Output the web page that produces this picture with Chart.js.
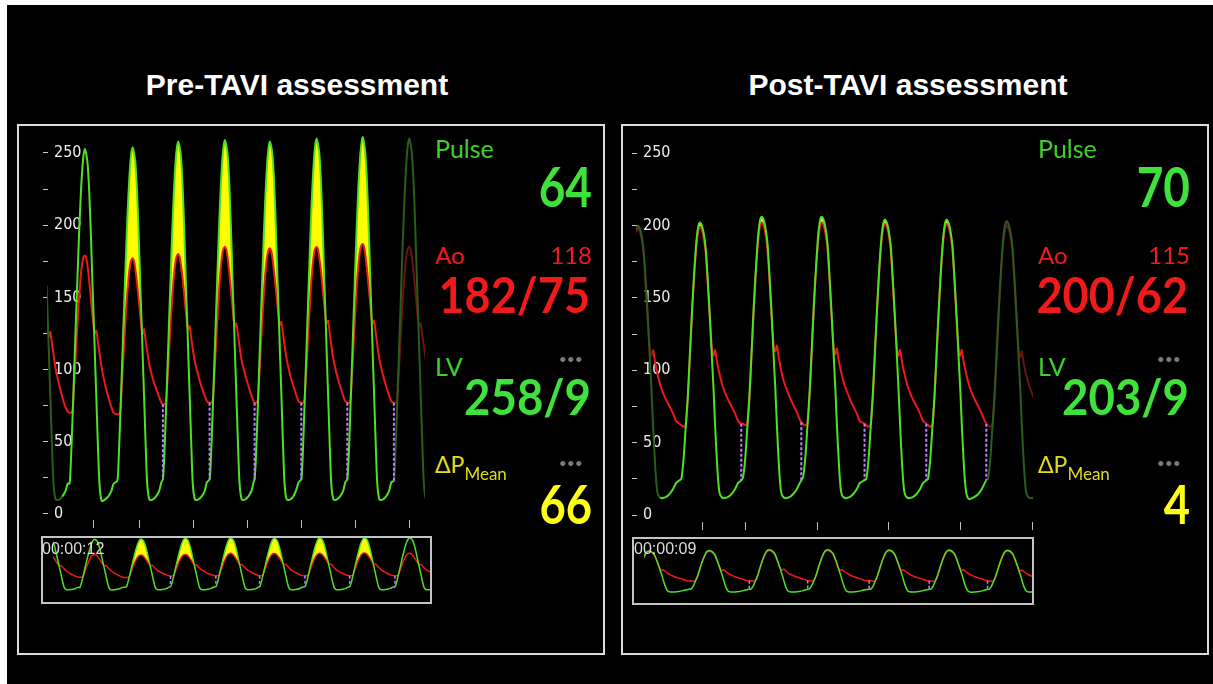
<!DOCTYPE html>
<html>
<head>
<meta charset="utf-8">
<script src="https://cdn.jsdelivr.net/npm/chart.js@4.4.0/dist/chart.umd.min.js"></script>
<style>
  html, body { margin: 0; padding: 0; width: 1213px; height: 684px; overflow: hidden; background: #fff; }
  #stage { position: absolute; left: 7px; top: 5px; width: 1206px; height: 679px; background: #000; }
  .box { position: absolute; box-sizing: border-box; }
  .panel { border: 2px solid #dcdcdc; }
  .mini { border: 2px solid #c4c4c4; }
  canvas { position: absolute; }
  .txt { position: absolute; line-height: 1; white-space: nowrap; font-family: Lato, 'Noto Sans', sans-serif; }
</style>
</head>
<body>
<div id="stage"></div>
<div class="box panel" style="left:17px; top:124px; width:588px; height:531px;"></div>
<div class="box panel" style="left:621px; top:124px; width:588px; height:531px;"></div>
<div class="box mini" style="left:41px; top:536px; width:391px; height:68px;"></div>
<div class="box mini" style="left:632px; top:537px; width:402px; height:68px;"></div>
<canvas id="preMain" width="388" height="398" style="left:37px; top:130px;"></canvas>
<canvas id="postMain" width="416" height="400" style="left:626px; top:130px;"></canvas>
<canvas id="preMini" width="387" height="64" style="left:43px; top:538px;"></canvas>
<canvas id="postMini" width="398" height="64" style="left:634px; top:539px;"></canvas>
<script>
// sample times inside each beat, seconds relative to the LV peak
const sampleOffsets = [-0.285, -0.26, -0.23, -0.20, -0.17, -0.14, -0.11, -0.08, -0.05, -0.025, 0, 0.025, 0.05,
  0.08, 0.11, 0.14, 0.17, 0.19, 0.21, 0.24, 0.27, 0.31, 0.37, 0.43, 0.49, 0.53];

// Pre-TAVI: LV peak time of each beat (s)
const preBeatTimes = [0.130, 0.981, 1.865, 2.709, 3.574, 4.407, 5.272, 6.124, 6.987];
const preLV = [
  [24, 38, 67, 99, 131, 162, 192, 218, 238, 248, 252, 248, 241, 221, 192, 158, 126, 103, 81, 47, 20, 10, 10, 12, 16, 21],
  [21, 37, 67, 99, 132, 163, 193, 219, 239, 249, 253, 249, 242, 222, 193, 158, 126, 103, 81, 47, 20, 9, 10, 12, 16, 21],
  [23, 38, 68, 100, 132, 164, 194, 220, 240, 250, 254, 250, 243, 223, 194, 159, 127, 104, 82, 48, 20, 10, 10, 12, 16, 22],
  [24, 39, 69, 101, 134, 166, 197, 224, 244, 254, 258, 254, 247, 227, 197, 161, 128, 105, 83, 49, 20, 10, 10, 12, 16, 22],
  [24, 39, 69, 101, 134, 167, 198, 225, 245, 255, 259, 255, 248, 228, 198, 162, 129, 105, 83, 49, 21, 10, 10, 12, 16, 22],
  [24, 39, 69, 101, 134, 166, 197, 224, 244, 254, 258, 254, 247, 227, 197, 162, 129, 106, 84, 49, 21, 10, 10, 12, 17, 22],
  [24, 39, 70, 102, 135, 168, 199, 226, 246, 256, 260, 256, 249, 229, 199, 163, 130, 106, 84, 50, 21, 10, 10, 12, 16, 22],
  [24, 39, 70, 102, 135, 168, 199, 226, 246, 256, 261, 257, 249, 229, 199, 163, 130, 106, 84, 50, 21, 10, 10, 12, 16, 22],
  [23, 39, 70, 102, 135, 168, 199, 226, 246, 256, 260, 256, 249, 229, 199, 163, 130, 106, 84, 50, 21, 10, 10, 12, 16, 21]
];
const preAo = [
  [76, 76, 77, 92, 112, 131, 149, 163, 173, 177, 178, 176, 170, 160, 148, 136, 125, 123, 126, 118, 110, 100, 90, 81, 74, 71],
  [70, 70, 72, 90, 111, 131, 149, 164, 174, 178, 179, 177, 171, 161, 149, 137, 127, 125, 127, 119, 111, 101, 90, 81, 74, 70],
  [69, 69, 71, 90, 110, 130, 148, 162, 172, 176, 177, 175, 169, 160, 149, 137, 127, 125, 128, 120, 112, 103, 94, 87, 81, 77],
  [76, 76, 77, 93, 113, 133, 151, 165, 175, 179, 180, 178, 172, 163, 152, 140, 130, 128, 130, 122, 114, 105, 96, 88, 82, 78],
  [77, 77, 78, 94, 115, 136, 155, 170, 180, 184, 185, 183, 177, 167, 155, 143, 132, 130, 132, 124, 116, 106, 97, 89, 82, 78],
  [77, 77, 78, 94, 115, 136, 154, 169, 179, 183, 184, 182, 176, 166, 155, 144, 133, 131, 133, 125, 117, 107, 97, 89, 82, 78],
  [77, 77, 78, 94, 115, 136, 155, 170, 180, 184, 185, 183, 177, 168, 156, 145, 134, 132, 134, 126, 117, 107, 97, 89, 82, 78],
  [77, 77, 78, 95, 116, 138, 157, 172, 182, 186, 187, 185, 179, 169, 157, 145, 134, 132, 134, 126, 117, 107, 97, 89, 82, 78],
  [77, 77, 78, 94, 115, 136, 155, 170, 180, 184, 185, 183, 177, 167, 155, 143, 132, 130, 132, 124, 116, 106, 97, 89, 82, 78]
];
const preFilled = [0, 0, 1, 1, 1, 1, 1, 1, 0];   // beats with the yellow gradient area
const preDashed = [0, 0, 0, 1, 1, 1, 1, 1, 1];   // dashed marker at beat start
const preTicks = [1.13, 2, 3, 4, 5, 6, 7];
const preFadeLV = [0.556, 6.70];
const preFadeAo = [0, 6.70];

// Post-TAVI
const postBeatTimes = [0.503, 1.368, 2.229, 3.066, 3.948, 4.809, 5.646];
const postLV = [
  [24, 25, 38, 60, 82, 111, 141, 166, 187, 197, 200, 198, 193, 182, 160, 134, 104, 85, 62, 34, 16, 12, 12, 14, 18, 22],
  [24, 25, 38, 60, 82, 112, 142, 168, 189, 199, 202, 200, 195, 184, 161, 135, 105, 86, 63, 34, 16, 12, 12, 14, 18, 22],
  [24, 26, 39, 61, 84, 114, 145, 171, 193, 203, 206, 204, 199, 188, 164, 137, 106, 87, 64, 34, 16, 12, 12, 14, 18, 22],
  [24, 26, 39, 61, 84, 114, 145, 171, 193, 203, 206, 204, 199, 188, 164, 137, 107, 87, 64, 35, 16, 12, 12, 14, 18, 22],
  [24, 25, 38, 60, 83, 113, 143, 170, 191, 201, 204, 202, 197, 186, 162, 136, 106, 86, 63, 34, 16, 12, 12, 14, 18, 22],
  [24, 25, 38, 60, 83, 113, 143, 170, 191, 201, 204, 202, 197, 186, 162, 135, 105, 86, 63, 34, 16, 11, 12, 14, 18, 22],
  [24, 25, 38, 60, 83, 113, 143, 169, 190, 200, 203, 201, 196, 185, 162, 135, 105, 86, 63, 34, 16, 12, 12, 14, 18, 22]
];
const postAo = [
  [63, 63, 62, 62, 80, 109, 139, 165, 185, 195, 198, 196, 191, 180, 157, 132, 113, 110, 114, 105, 98, 90, 82, 76, 70, 65],
  [63, 62, 61, 62, 80, 110, 140, 166, 186, 196, 199, 197, 192, 181, 158, 133, 113, 110, 114, 105, 98, 90, 82, 76, 70, 65],
  [63, 63, 62, 63, 81, 112, 143, 169, 189, 199, 202, 200, 195, 184, 161, 135, 115, 113, 117, 108, 100, 92, 84, 77, 71, 66],
  [64, 63, 62, 63, 81, 112, 143, 169, 189, 199, 202, 200, 195, 184, 161, 134, 114, 111, 115, 106, 99, 91, 83, 76, 70, 65],
  [63, 62, 61, 62, 80, 111, 142, 168, 188, 198, 201, 199, 194, 183, 160, 133, 113, 110, 114, 105, 98, 90, 82, 76, 70, 65],
  [63, 62, 61, 62, 80, 111, 142, 168, 188, 198, 201, 199, 194, 183, 160, 133, 113, 110, 114, 105, 98, 90, 82, 76, 70, 65],
  [63, 62, 61, 62, 80, 110, 141, 167, 187, 197, 200, 198, 193, 182, 159, 133, 112, 109, 113, 104, 97, 90, 82, 76, 70, 65]
];
const postFilled = [0, 1, 1, 1, 1, 1, 0];
const postDashed = [0, 0, 1, 1, 1, 1, 1];
const postTicks = [1.40, 2, 3, 4, 5, 6];
const postFadeLV = [0.79, 5.36];
const postFadeAo = [0.70, 5.36];

const yTicks = [0, 25, 50, 75, 100, 125, 150, 175, 200, 225, 250];

// panel texts
const panelTitles = ['Pre-TAVI assessment', 'Post-TAVI assessment'];
const pulseValues = ['64', '70'];
const aoMeanValues = ['118', '115'];
const aoValues = ['182/75', '200/62'];
const lvValues = ['258/9', '203/9'];
const dpMeanValues = ['66', '4'];
const clockValues = ['00:00:12', '00:00:09'];

const LV_COLOR = '#4fe024', LV_DIM = '#2b5c1a';
const AO_COLOR = '#ee1818', AO_DIM = '#6a1414';
const FILL_COLOR = '#ffff00';
const DASH_COLOR = '#c080ff';

function buildSeries(times, rows, mask) {
  const pts = [];
  times.forEach((t0, b) => {
    sampleOffsets.forEach((o, i) => {
      pts.push({ x: +(t0 + o).toFixed(3), y: (mask && !mask[b]) ? null : rows[b][i] });
    });
  });
  return pts;
}

function buildDashes(times, lv, ao, mask) {
  const pts = [];
  times.forEach((t0, b) => {
    if (!mask[b]) return;
    const x = +(t0 + sampleOffsets[0]).toFixed(3);
    pts.push({ x: x, y: ao[b][0] }, { x: x, y: lv[b][0] }, { x: x, y: null });
  });
  return pts;
}

function outside(range, x) {
  return !!range && (x < range[0] || x >= range[1]);
}

function traceChart(id, d, view) {
  const lw = view.axes ? 2 : 1.5;
  const clip = { left: 1, top: 1, bottom: 1, right: view.clipRight || 1 };
  new Chart(document.getElementById(id), {
    type: 'line',
    data: {
      datasets: [
        { label: 'Ao', data: buildSeries(d.times, d.ao), borderColor: AO_COLOR, borderWidth: lw, clip: clip,
          segment: { borderColor: c => outside(view.fadeAo, c.p0.parsed.x) ? AO_DIM : AO_COLOR }, order: 2 },
        { label: 'LV', data: buildSeries(d.times, d.lv), borderColor: LV_COLOR, borderWidth: lw, clip: clip,
          segment: { borderColor: c => outside(view.fadeLV, c.p0.parsed.x) ? LV_DIM : LV_COLOR }, order: 1 },
        { label: 'gradient', data: buildSeries(d.times, d.lv, d.filled), borderWidth: 0, borderColor: 'rgba(0,0,0,0)',
          clip: clip, fill: { target: 0, above: FILL_COLOR, below: 'rgba(0,0,0,0)' }, order: 3 },
        { label: 'marker', data: buildDashes(d.times, d.lv, d.ao, d.dashed), borderColor: DASH_COLOR, clip: clip,
          borderWidth: view.axes ? 2 : 1.5, borderDash: [3, 2], tension: 0, order: 0 }
      ]
    },
    options: {
      responsive: false,
      animation: false,
      devicePixelRatio: 1,
      events: [],
      spanGaps: false,
      layout: { padding: 0 },
      elements: { point: { radius: 0 }, line: { tension: 0.25 } },
      plugins: { legend: { display: false }, tooltip: { enabled: false }, filler: { propagate: false } },
      scales: {
        x: {
          type: 'linear', min: view.x[0], max: view.x[1], display: view.axes,
          border: { display: false },
          grid: { drawOnChartArea: false, drawTicks: true, tickLength: 8, color: '#bcbcbc' },
          ticks: { display: false },
          afterBuildTicks: s => { s.ticks = d.ticks.map(v => ({ value: v })); },
          afterFit: s => { s.height = 8; s.paddingLeft = 0; s.paddingRight = 0; }
        },
        y: {
          type: 'linear', min: view.y[0], max: view.y[1], display: view.axes,
          border: { display: false },
          grid: { drawOnChartArea: false, drawTicks: true, tickLength: 5, color: '#c8c8c8' },
          ticks: {
            mirror: true, padding: 6, color: '#ececec',
            font: { family: "'DejaVu Sans Condensed', 'Liberation Sans Narrow', sans-serif", size: 16 },
            callback: v => (v % 50 === 0 ? String(v) : '')
          },
          afterBuildTicks: s => { s.ticks = yTicks.map(v => ({ value: v })); },
          afterFit: s => { s.width = 11; s.paddingTop = 0; s.paddingBottom = 0; }
        }
      }
    }
  });
}

const pre = { times: preBeatTimes, lv: preLV, ao: preAo, filled: preFilled, dashed: preDashed, ticks: preTicks };
const post = { times: postBeatTimes, lv: postLV, ao: postAo, filled: postFilled, dashed: postDashed, ticks: postTicks };

traceChart('preMain', pre, { axes: true, x: [0.2963, 7.2778], y: [-4.16, 265.9], fadeLV: preFadeLV, fadeAo: preFadeAo });
traceChart('postMain', post, { axes: true, x: [0.4895, 6.1381], y: [-4.83, 265.9], fadeLV: postFadeLV, fadeAo: postFadeAo, clipRight: -9 });
traceChart('preMini', pre, { axes: false, x: [0.2037, 7.3704], y: [-10.9, 259] });
traceChart('postMini', post, { axes: false, x: [0.4477, 5.9986], y: [-2, 255] });

// text
function addText(html, x, top, size, color, opt) {
  opt = opt || {};
  const el = document.createElement('div');
  el.className = 'txt';
  el.innerHTML = html;
  el.style.top = top + 'px';
  el.style.fontSize = size + 'px';
  el.style.color = color;
  if (opt.bold) el.style.fontWeight = 700;
  if (opt.font) el.style.fontFamily = opt.font;
  if (opt.align === 'right') {
    el.style.left = (x - 400) + 'px'; el.style.width = '400px'; el.style.textAlign = 'right';
    el.style.transformOrigin = 'right center';
  } else if (opt.align === 'center') {
    el.style.left = (x - 400) + 'px'; el.style.width = '800px'; el.style.textAlign = 'center';
  } else {
    el.style.left = x + 'px';
    el.style.transformOrigin = 'left center';
  }
  if (opt.sx) el.style.transform = 'scaleX(' + opt.sx + ')';
  document.body.appendChild(el);
}

const GREEN_LABEL = '#3fd02a', GREEN_VALUE = '#3ee23a';
const RED = '#f01a1a', YELLOW_LABEL = '#e2dc18', YELLOW_VALUE = '#ffff14', DOTS = '#7a7a7a';
const titleX = [297, 908];
const labelX = [435, 1038];
const valueX = [592, 1190];
const clockX = [42, 634];

for (let p = 0; p < 2; p++) {
  addText(panelTitles[p], titleX[p], 70, 30, '#ffffff', { align: 'center', bold: true, font: "'Liberation Sans', Arial, sans-serif" });
  addText('Pulse', labelX[p], 136, 25, GREEN_LABEL);
  addText(pulseValues[p], valueX[p], 158, 56, GREEN_VALUE, { align: 'right', bold: true, sx: 0.82 });
  addText('Ao', labelX[p], 243, 24, RED);
  addText(aoMeanValues[p], valueX[p], 243, 24, RED, { align: 'right' });
  addText(aoValues[p], valueX[p] - 2, 269, 50, RED, { align: 'right', bold: true, sx: 0.9 });
  addText('LV', labelX[p], 354, 25, GREEN_LABEL);
  addText('&bull;&bull;&bull;', valueX[p] - 9, 352, 14, DOTS, { align: 'right' });
  addText(lvValues[p], valueX[p] - 1, 372, 49, GREEN_VALUE, { align: 'right', bold: true, sx: 0.93 });
  addText('&Delta;P<span style="font-size:17px; position:relative; top:7px;">Mean</span>', labelX[p], 453, 23, YELLOW_LABEL);
  addText('&bull;&bull;&bull;', valueX[p] - 9, 456, 14, DOTS, { align: 'right' });
  addText(dpMeanValues[p], valueX[p], 477, 54, YELLOW_VALUE, { align: 'right', bold: true, sx: 0.84 });
  addText(clockValues[p], clockX[p], 541, 16, '#dcdcdc', { font: "'Liberation Sans', Arial, sans-serif" });
}
</script>
</body>
</html>
